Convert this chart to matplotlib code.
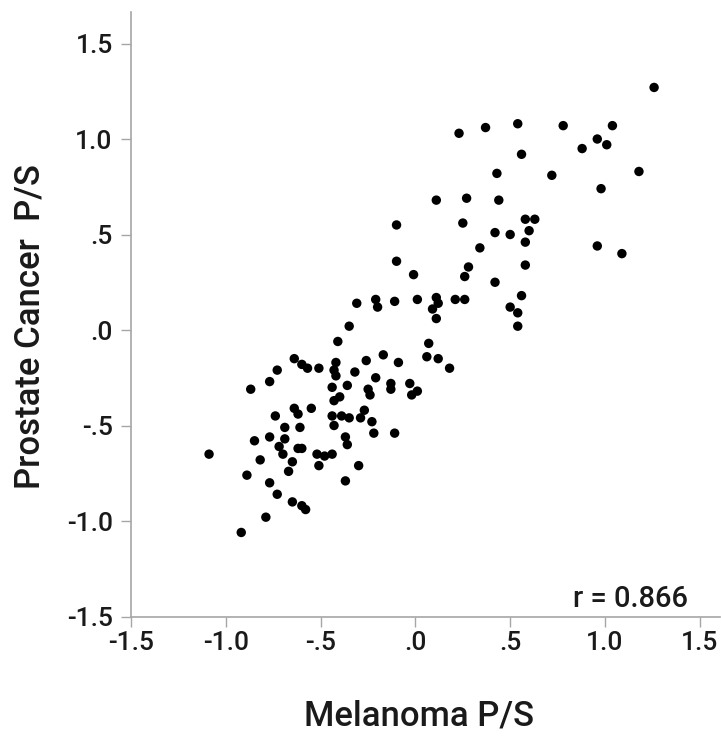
import matplotlib
matplotlib.use("Agg")
import matplotlib.pyplot as plt

plt.rcParams['font.family'] = ['Roboto', 'DejaVu Sans']

# Melanoma P/S (x) vs Prostate Cancer P/S (y)
melanoma = [
    1.26, 0.23, 0.37, 0.54, 0.78, 1.04, 0.96, 1.01, 0.88, 0.56,
    0.43, 0.72, 1.18, 0.98, 0.11, 0.27, 0.44, 0.58, 0.63, 0.25,
    0.42, 0.50, 0.60, 0.58, 0.34, 0.96, 1.09, 0.28, -0.01, 0.26,
    0.58, 0.42, 0.01, 0.11, 0.12, 0.09, 0.11, 0.21, 0.26, 0.56,
    0.50, 0.54, 0.54, 0.07,
    -0.10, -0.10, -0.31, -0.21, -0.20, -0.11, 0.18,
    -0.35, -0.41, 0.06, 0.12, -0.64, -0.60, -0.57, -0.51, -0.42, -0.43,
    -0.42, -0.32, -0.26, -0.17, -0.09, -0.73, -0.77, -0.87, -0.44, -0.36,
    -0.21, -0.25, -0.24, -0.13, -0.13, -0.03, 0.01, -0.02, -0.43, -0.40,
    -0.64, -0.62, -0.55, -0.74, -0.27, -0.44, -0.39, -0.35, -0.29, -0.23,
    -0.43, -0.22, -0.11, -0.69, -0.61, -0.77, -0.69, -0.37, -0.36, -0.85,
    -0.72, -0.62, -0.60, -0.52, -0.48, -0.44, -1.09, -0.70, -0.82, -0.65,
    -0.51, -0.30, -0.67, -0.89, -0.37, -0.77, -0.73, -0.65, -0.60, -0.58,
    -0.79, -0.92,
]
prostate = [
    1.27, 1.03, 1.06, 1.08, 1.07, 1.07, 1.00, 0.97, 0.95, 0.92,
    0.82, 0.81, 0.83, 0.74, 0.68, 0.69, 0.68, 0.58, 0.58, 0.56,
    0.51, 0.50, 0.52, 0.46, 0.43, 0.44, 0.40, 0.33, 0.29, 0.28,
    0.34, 0.25, 0.16, 0.17, 0.14, 0.11, 0.06, 0.16, 0.16, 0.18,
    0.12, 0.09, 0.02, -0.07,
    0.55, 0.36, 0.14, 0.16, 0.12, 0.15, -0.20,
    0.02, -0.06, -0.14, -0.15, -0.15, -0.18, -0.20, -0.20, -0.17, -0.21,
    -0.24, -0.22, -0.16, -0.13, -0.17, -0.21, -0.27, -0.31, -0.30, -0.29,
    -0.25, -0.31, -0.34, -0.28, -0.31, -0.28, -0.32, -0.34, -0.37, -0.35,
    -0.41, -0.44, -0.41, -0.45, -0.42, -0.45, -0.45, -0.46, -0.46, -0.48,
    -0.50, -0.54, -0.54, -0.51, -0.51, -0.56, -0.57, -0.56, -0.60, -0.58,
    -0.61, -0.62, -0.62, -0.65, -0.66, -0.65, -0.65, -0.65, -0.68, -0.69,
    -0.71, -0.71, -0.74, -0.76, -0.79, -0.80, -0.86, -0.90, -0.92, -0.94,
    -0.98, -1.06,
]
tick_values = [-1.5, -1.0, -0.5, 0.0, 0.5, 1.0, 1.5]
tick_labels = ['-1.5', '-1.0', '-.5', '.0', '.5', '1.0', '1.5']
r_text = 'r = 0.866'


def main():
    W, H = 721, 739
    fig = plt.figure(figsize=(W / 100, H / 100), dpi=100)
    left, right, bottom, top = 131.4, 720, 616.5, 12
    ax = fig.add_axes([left / W, 1 - bottom / H, (right - left) / W, (bottom - top) / H])

    ax.scatter(melanoma, prostate, s=46, color='black', edgecolors='none', zorder=3)

    ax.set_xlim(-1.5, 1.608)
    ax.set_ylim(-1.5, 1.665)

    grey = '#a6a6a6'
    for side in ['top', 'right']:
        ax.spines[side].set_visible(False)
    for side in ['left', 'bottom']:
        ax.spines[side].set_color(grey)
        ax.spines[side].set_linewidth(1.2)

    ax.set_xticks(tick_values)
    ax.set_xticklabels(tick_labels, fontweight='medium')
    ax.set_yticks(tick_values)
    ax.set_yticklabels(tick_labels, fontweight='medium')
    ax.tick_params(axis='both', direction='out', length=7.5, width=1.0, color=grey,
                   labelsize=19, labelcolor='#1a1a1a')
    ax.tick_params(axis='x', pad=3)
    ax.tick_params(axis='y', pad=6)

    ax.text(1.44, -1.41, r_text, ha='right', va='center', fontsize=21,
            fontweight='medium', color='#1a1a1a')

    fig.text(419 / W, 1 - 716 / H, 'Melanoma P/S', ha='center', va='center',
             fontsize=25, fontweight='medium', color='#1a1a1a')
    fig.text(30 / W, 1 - 327 / H, 'Prostate Cancer  P/S', ha='center', va='center',
             rotation=90, fontsize=25, fontweight='medium', color='#1a1a1a')

    fig.savefig('out.png', dpi=100)


if __name__ == "__main__":
    main()
